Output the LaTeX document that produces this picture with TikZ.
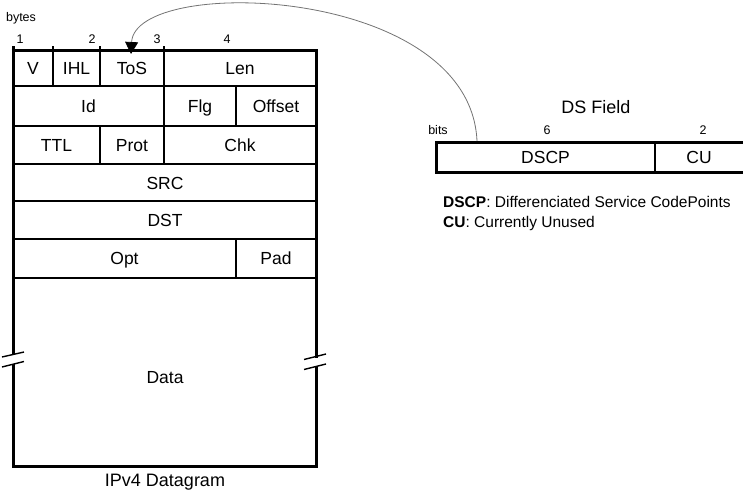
\documentclass[tikz,border=0pt]{standalone}
\usepackage{fontspec}
\setmainfont{Liberation Sans}
\usetikzlibrary{arrows.meta}

\begin{document}
\begin{tikzpicture}[
    x=1pt, y=-1pt,
    outer/.style={line width=3pt, line join=miter},
    inner/.style={line width=2pt},
    brk/.style={line width=1.4pt},
    fieldtxt/.style={font=\fontsize{17.5}{20}\selectfont, inner sep=0pt, text height=12.5pt, text depth=0pt},
    ticktxt/.style={font=\fontsize{12.5}{15}\selectfont, inner sep=0pt, text height=9pt, text depth=0pt},
    legend/.style={font=\fontsize{15.5}{18}\selectfont, inner sep=0pt, anchor=west, text height=11pt, text depth=0pt},
    caption/.style={font=\fontsize{18}{21}\selectfont, inner sep=0pt, text height=13pt, text depth=0pt},
    link/.style={draw=black!55, line width=0.8pt, -{Triangle[length=12pt, width=13pt, color=black]}}
]
\useasboundingbox (0,0) rectangle (743,490);

% datagram frame, broken at the data part
\draw[outer] (13,355) -- (13,46);
\draw[outer] (11.5,50) -- (316,50) -- (316,358);
\draw[outer] (316,367) -- (316,466) -- (13,466) -- (13,364);
\foreach \x in {53,100,164}
    \draw[inner] (\x,46) -- (\x,50);

\foreach \y in {86,126,164,201,239,278}
    \draw[inner] (13,\y) -- (316,\y);
\draw[inner] (53,50) -- (53,86);
\draw[inner] (100,50) -- (100,86);
\draw[inner] (164,50) -- (164,126);
\draw[inner] (236,86) -- (236,126);
\draw[inner] (100,126) -- (100,164);
\draw[inner] (164,126) -- (164,164);
\draw[inner] (236,239) -- (236,278);

\draw[brk] (2,357) -- (24,352);
\draw[brk] (2,367) -- (24,361.5);
\draw[brk] (304,359.5) -- (326,354);
\draw[brk] (304,369.5) -- (326,364);

\node[ticktxt] (bytes) at (21,17) {bytes};
\node[ticktxt] (b1) at (20,39) {1};
\node[ticktxt] (b2) at (92,39) {2};
\node[ticktxt] (b3) at (157,39) {3};
\node[ticktxt] (b4) at (227,39) {4};

\node[fieldtxt] (ver) at (33,68) {V};
\node[fieldtxt] (ihl) at (76.5,68) {IHL};
\node[fieldtxt] (tos) at (132,68) {ToS};
\node[fieldtxt] (len) at (240,68) {Len};
\node[fieldtxt] (id) at (88.5,106) {Id};
\node[fieldtxt] (flg) at (200,106) {Flg};
\node[fieldtxt] (off) at (276,106) {Offset};
\node[fieldtxt] (ttl) at (56.5,145) {TTL};
\node[fieldtxt] (prot) at (132,145) {Prot};
\node[fieldtxt] (chk) at (240,145) {Chk};
\node[fieldtxt] (src) at (165,183) {SRC};
\node[fieldtxt] (dst) at (165,220) {DST};
\node[fieldtxt] (opt) at (124.5,258.5) {Opt};
\node[fieldtxt] (pad) at (276,258.5) {Pad};
\node[fieldtxt] (data) at (165,377) {Data};
\node[caption] (ipv4) at (165,480) {IPv4 Datagram};

% DS field
\draw[outer] (750,142) -- (436,142) -- (436,172.5) -- (750,172.5);
\draw[inner] (655,142) -- (655,172.5);
\node[caption] (dsf) at (596,107) {DS Field};
\node[ticktxt] (bits) at (438,130) {bits};
\node[ticktxt] (n6) at (547,130) {6};
\node[ticktxt] (n2) at (703,130) {2};
\node[fieldtxt] (dscp) at (545.5,157.5) {DSCP};
\node[fieldtxt] (cu) at (699,157.5) {CU};

\node[legend] (l1) at (443,202) {\textbf{DSCP}: Differenciated Service CodePoints};
\node[legend] (l2) at (443,222) {\textbf{CU}: Currently Unused};

\coordinate (dsout) at (477,141);
\coordinate (tosin) at (131,54);
\draw[link] (dsout) .. controls (470,-15) and (135,-25) .. (tosin);

\end{tikzpicture}
\end{document}
